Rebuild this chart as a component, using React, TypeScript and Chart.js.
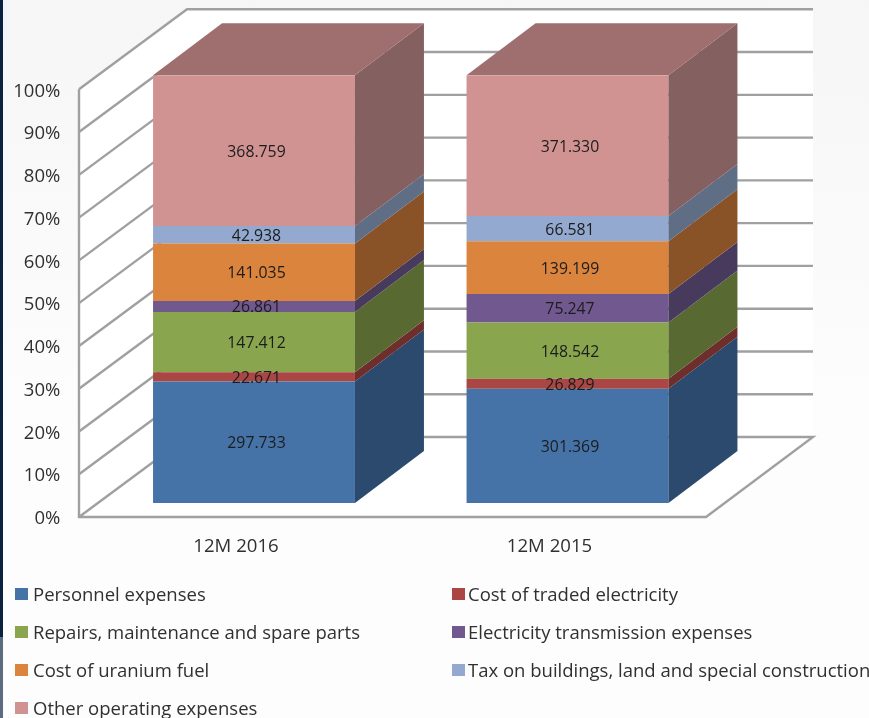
import React, { useEffect, useRef } from "react";
import { Chart, registerables } from "chart.js";

Chart.register(...registerables);

const categories = ["12M 2016", "12M 2015"];
const seriesNames = [
  "Personnel expenses",
  "Cost of traded electricity",
  "Repairs, maintenance and spare parts",
  "Electricity transmission expenses",
  "Cost of uranium fuel",
  "Tax on buildings, land and special construction",
  "Other operating expenses",
];
const personnel = [297.733, 301.369];
const tradedElectricity = [22.671, 26.829];
const repairs = [147.412, 148.542];
const transmission = [26.861, 75.247];
const uranium = [141.035, 139.199];
const buildingTax = [42.938, 66.581];
const otherExpenses = [368.759, 371.33];
const seriesValues = [personnel, tradedElectricity, repairs, transmission, uranium, buildingTax, otherExpenses];

const frontColors = ["#4572A7", "#AA4643", "#89A54E", "#71588F", "#DB843D", "#93A9CF", "#D19392"];
const sideColors = ["#2B4A6D", "#6E2E2C", "#586A32", "#483A5D", "#8A5327", "#5F6D85", "#856060"];
const topColor = "#9E6F6E";

const FONT = "'Open Sans'";
const WALL = { dx: 108, dy: 80, drop: 14 };
const BAR_DEPTH = { dx: 69, dy: 52 };
const GRID = "#a0a0a0";

const totals = categories.map((_, c) => seriesValues.reduce((s, v) => s + v[c], 0));
const percent = (v: number[]) => v.map((x, c) => (x / totals[c]) * 100);

const formatValue = (v: number) => v.toFixed(3);

const poly = (ctx: CanvasRenderingContext2D, pts: number[][], fill: string) => {
  ctx.beginPath();
  pts.forEach(([x, y], i) => (i ? ctx.lineTo(x, y) : ctx.moveTo(x, y)));
  ctx.closePath();
  ctx.fillStyle = fill;
  ctx.fill();
};

const line = (ctx: CanvasRenderingContext2D, pts: number[][]) => {
  ctx.beginPath();
  pts.forEach(([x, y], i) => (i ? ctx.lineTo(x, y) : ctx.moveTo(x, y)));
  ctx.stroke();
};

const wallsPlugin = {
  id: "walls",
  beforeDatasetsDraw(chart: any) {
    const { ctx, scales } = chart;
    const y = scales.y;
    const left = 79;
    const floorRight = 706;
    const gridRight = 813;
    const py = (v: number) => y.getPixelForValue(v) + WALL.drop;
    const y0 = py(0);
    const y100 = py(100);
    ctx.save();
    poly(ctx, [[left, y0], [left, y100], [left + WALL.dx, y100 - WALL.dy], [left + WALL.dx, y0 - WALL.dy]], "#ffffff");
    poly(ctx, [[left + WALL.dx, y100 - WALL.dy], [gridRight, y100 - WALL.dy], [gridRight, y0 - WALL.dy], [left + WALL.dx, y0 - WALL.dy]], "#ffffff");
    poly(ctx, [[left, y0], [floorRight, y0], [floorRight + WALL.dx - 1, y0 - WALL.dy], [left + WALL.dx, y0 - WALL.dy]], "#ffffff");
    ctx.strokeStyle = GRID;
    ctx.lineWidth = 2.4;
    for (let v = 10; v <= 100; v += 10) {
      const p = py(v);
      line(ctx, [[left, p], [left + WALL.dx, p - WALL.dy], [gridRight, p - WALL.dy]]);
    }
    line(ctx, [[left, y100], [left, y0], [floorRight, y0], [floorRight + WALL.dx - 1, y0 - WALL.dy], [left + WALL.dx, y0 - WALL.dy], [left, y0]]);
    ctx.restore();
  },
};

const depthPlugin = {
  id: "depth",
  afterDatasetsDraw(chart: any) {
    const { ctx } = chart;
    ctx.save();
    const last = seriesValues.length - 1;
    seriesValues.forEach((_, s) => {
      const meta = chart.getDatasetMeta(s);
      meta.data.forEach((bar: any) => {
        const right = bar.x + bar.width / 2;
        const left = bar.x - bar.width / 2;
        const { dx, dy } = BAR_DEPTH;
        poly(ctx, [[right, bar.base], [right, bar.y], [right + dx, bar.y - dy], [right + dx, bar.base - dy]], sideColors[s]);
        if (s === last) {
          poly(ctx, [[left, bar.y], [right, bar.y], [right + dx, bar.y - dy], [left + dx, bar.y - dy]], topColor);
        }
      });
    });
    ctx.font = `15.8px ${FONT}`;
    ctx.fillStyle = "#1c1c1c";
    ctx.textAlign = "center";
    ctx.textBaseline = "middle";
    seriesValues.forEach((values, s) => {
      const meta = chart.getDatasetMeta(s);
      meta.data.forEach((bar: any, c: number) => {
        ctx.fillText(formatValue(values[c]), bar.x + 2.5, (bar.y + bar.base) / 2 + 1.5);
      });
    });
    ctx.restore();
  },
};

const legendCols = [15, 452];
const legendRows = [594, 632, 670, 708];

export default function App() {
  const ref = useRef<HTMLCanvasElement>(null);
  useEffect(() => {
    const chart = new Chart(ref.current!, {
      type: "bar",
      data: {
        labels: categories,
        datasets: seriesNames.map((label, s) => ({
          label,
          data: percent(seriesValues[s]),
          backgroundColor: frontColors[s],
          borderWidth: 0,
        })),
      },
      options: {
        animation: false,
        responsive: false,
        devicePixelRatio: 1,
        layout: { padding: { top: 75.3, right: 144.75, left: 0, bottom: 0 } },
        datasets: { bar: { barPercentage: 0.644, categoryPercentage: 1 } },
        plugins: { legend: { display: false }, tooltip: { enabled: false }, title: { display: false } },
        scales: {
          x: {
            stacked: true,
            grid: { display: false, drawTicks: false },
            border: { display: false },
            ticks: { padding: 33, labelOffset: -18, color: "#303030", font: { family: FONT, size: 18.6 } },
            afterFit: (s: any) => { s.height = 215; },
          },
          y: {
            stacked: true,
            min: 0,
            max: 100,
            grid: { display: false, drawTicks: false },
            border: { display: false },
            ticks: {
              stepSize: 10,
              padding: 37,
              labelOffset: 16,
              color: "#303030",
              font: { family: FONT, size: 18.5 },
              callback: (v: any) => `${v}%`,
            },
            afterFit: (s: any) => { s.width = 97.25; },
          },
        },
      },
      plugins: [wallsPlugin, depthPlugin],
    } as any);
    return () => chart.destroy();
  }, []);
  return (
    <div
      style={{
        position: "fixed",
        left: 0,
        top: 0,
        width: 869,
        height: 718,
        overflow: "hidden",
        background: "linear-gradient(#f6f6f6, #fdfdfd 60%)",
      }}
    >
      <canvas ref={ref} width={869} height={718} style={{ display: "block", position: "absolute", left: 0, top: 0, filter: "blur(0.4px)" }} />
      <div style={{ position: "absolute", left: 0, top: 0, width: 3, height: 637, background: "#0c2340" }} />
      <div style={{ position: "absolute", left: 0, top: 637, width: 3, height: 81, background: "#5d6b80" }} />
      {seriesNames.map((name, s) => (
        <div key={name} style={{ filter: "blur(0.4px)" }}>
          <div
            style={{
              position: "absolute",
              left: legendCols[s % 2],
              top: legendRows[Math.floor(s / 2)] - 6,
              width: 13,
              height: 12,
              background: frontColors[s],
            }}
          />
          <div
            style={{
              position: "absolute",
              left: legendCols[s % 2] + (s % 2 ? 16 : 18),
              top: legendRows[Math.floor(s / 2)] - 13.5,
              height: 24,
              lineHeight: "24px",
              whiteSpace: "nowrap",
              font: `18.5px ${FONT}`,
              color: "#303030",
            }}
          >
            {name}
          </div>
        </div>
      ))}
    </div>
  );
}
